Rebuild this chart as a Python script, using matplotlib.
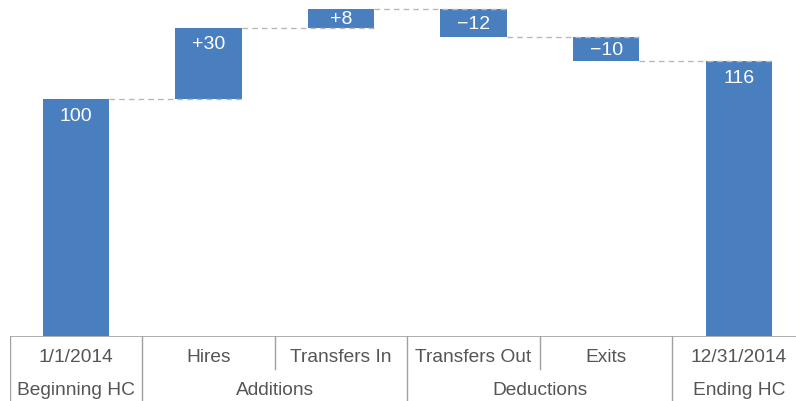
import matplotlib.pyplot as plt

# waterfall data
categories = ['1/1/2014', 'Hires', 'Transfers In', 'Transfers Out', 'Exits', '12/31/2014']
changes = [100, 30, 8, -12, -10, 116]
is_total = [True, False, False, False, False, True]
bar_labels = ['100', '+30', '+8', '\u221212', '\u221210', '116']
groups = ['Beginning HC', 'Additions', 'Deductions', 'Ending HC']
group_centers = [0, 1.5, 3.5, 5]
full_dividers = [-0.5, 0.5, 2.5, 4.5]
half_dividers = [1.5, 3.5]

bar_color = '#4a7fbf'
text_gray = '#555555'
line_gray = '#a0a0a0'
plt.rcParams['font.family'] = ['Liberation Sans', 'DejaVu Sans']

fig = plt.figure(figsize=(7.96, 4.02), dpi=100)
W, H = 796, 402
x0, x1 = 9.5, 805
base_px = 337
ax = fig.add_axes([x0 / W, (H - base_px) / H, (x1 - x0) / W, base_px / H])
ax2 = fig.add_axes([x0 / W, 0, (x1 - x0) / W, (H - base_px) / H])

# work out bar bottoms / tops
bottoms, tops = [], []
running = 0
for v, tot in zip(changes, is_total):
    if tot:
        bottoms.append(0)
        tops.append(v)
        running = v
    else:
        lo, hi = sorted([running, running + v])
        bottoms.append(lo)
        tops.append(hi)
        running += v

px_per_unit = 2.37
xs = range(len(categories))
heights = [t - b for b, t in zip(bottoms, tops)]
ax.bar(xs, heights, bottom=bottoms, width=0.5, color=bar_color, zorder=2)

# dashed connectors
level = 0
for i in range(len(changes) - 1):
    level = tops[i] if (is_total[i] or changes[i] > 0) else bottoms[i]
    ax.plot([i + 0.25, i + 1.25], [level, level], ls=(0, (4, 3)),
            color='#b8b8b8', lw=1, zorder=3)

# value labels inside bars
for i, lab in enumerate(bar_labels):
    off = min(16, heights[i] * px_per_unit / 2) / px_per_unit
    ax.text(i, tops[i] - off, lab, ha='center', va='center',
            color='white', fontsize=14, zorder=4)

ax.set_xlim(-0.5, 5.5)
ax.set_ylim(0, base_px / px_per_unit)
ax.axis('off')

# category table below
ax2.set_xlim(-0.5, 5.5)
ax2.set_ylim(0, 1)
ax2.axis('off')
ax2.axhline(1, color=line_gray, lw=1.2)
for x in full_dividers:
    ax2.plot([x, x], [0, 1], color=line_gray, lw=1)
for x in half_dividers:
    ax2.plot([x, x], [0.5, 1], color=line_gray, lw=1)
for i, c in enumerate(categories):
    ax2.text(i, 0.68, c, ha='center', va='center', color=text_gray, fontsize=13.8)
for gx, g in zip(group_centers, groups):
    ax2.text(gx, 0.17, g, ha='center', va='center', color=text_gray, fontsize=13.8)

fig.savefig('out.png', dpi=100)
